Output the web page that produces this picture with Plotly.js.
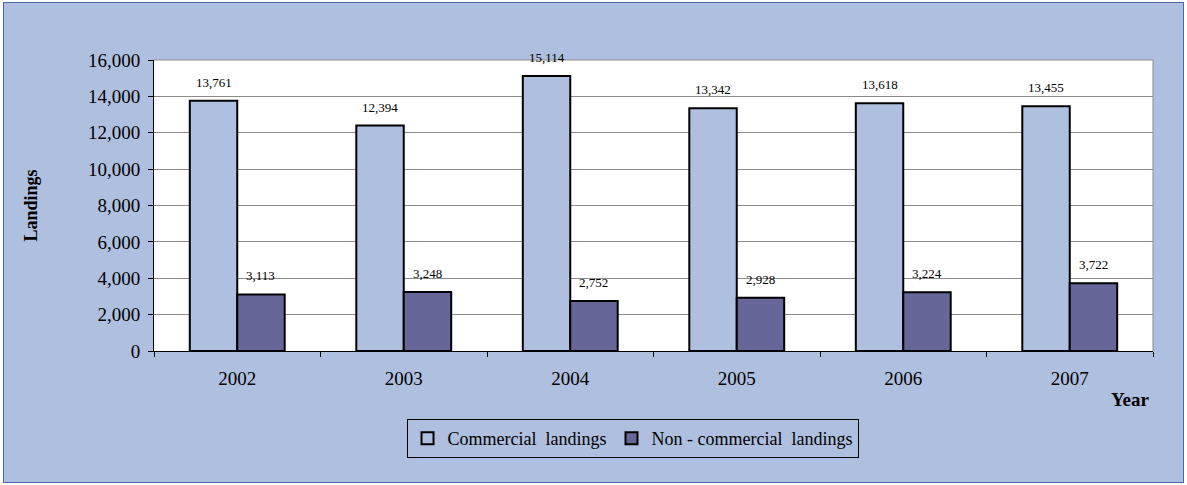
<!DOCTYPE html>
<html>
<head>
<meta charset="utf-8">
<script src="https://cdn.plot.ly/plotly-3.0.1.min.js"></script>
<style>
html,body{margin:0;padding:0;background:#fff;}
#wrap{position:relative;width:1187px;height:485px;}
#chart{position:absolute;left:4px;top:3px;width:1180px;height:480px;}
#frame{position:absolute;left:3px;top:2px;width:1179px;height:479px;border:1.5px solid #4a6aa5;pointer-events:none;}
</style>
</head>
<body>
<div id="wrap"><div id="chart"></div><div id="frame"></div></div>
<script>
const years = ['2002','2003','2004','2005','2006','2007'];
const commercial = [13761, 12394, 15114, 13342, 13618, 13455];
const nonCommercial = [3113, 3248, 2752, 2928, 3224, 3722];
const seriesNames = ['Commercial  landings', 'Non - commercial  landings'];

const BG = '#AFBFDF';
const FONT = '"Liberation Serif", "Times New Roman", Times, serif';

const traces = [
  {type:'bar', x:years, y:commercial, name:seriesNames[0],
   marker:{color:BG, line:{color:'#000', width:2}}, hoverinfo:'skip'},
  {type:'bar', x:years, y:nonCommercial, name:seriesNames[1],
   marker:{color:'#666699', line:{color:'#000', width:2}}, hoverinfo:'skip'}
];

const fmt = v => v.toLocaleString('en-US');
const dataLabels = [];
[[commercial, -23.7], [nonCommercial, 23.7]].forEach(([vals, dx]) => {
  vals.forEach((v, i) => dataLabels.push({
    x: i, y: v, xref:'x', yref:'y', text: fmt(v), showarrow:false,
    xshift: dx, yshift: 9, yanchor:'bottom', xanchor:'center',
    font:{family:FONT, size:13, color:'#000'}
  }));
});

const layout = {
  width:1180, height:480,
  margin:{l:150, r:31, t:57, b:132},
  paper_bgcolor:BG, plot_bgcolor:'#fff',
  font:{family:FONT, color:'#000', size:19},
  barmode:'group', bargap:0.43, bargroupgap:0,
  separators:'.,',
  xaxis:{type:'category', range:[-0.5, 5.5], showline:true, linecolor:'#000', linewidth:1,
         ticks:'outside', tickson:'boundaries', ticklen:5, tickcolor:'#000',
         tickfont:{family:FONT, size:19, color:'#000'}, ticklabelstandoff:10, showgrid:false, zeroline:false},
  yaxis:{range:[0,16000], dtick:2000, tickformat:',d', showline:true, linecolor:'#000', linewidth:1,
         ticks:'outside', ticklen:5, tickcolor:'#000', showgrid:true, gridcolor:'#8c8c8c', gridwidth:1,
         zeroline:false, tickfont:{family:FONT, size:19, color:'#000'}, ticklabelstandoff:4},
  legend:{orientation:'h', x:0.479, xanchor:'center', y:-0.234, yanchor:'top',
          bgcolor:BG, bordercolor:'#000', borderwidth:1,
          font:{family:FONT, size:18}, itemwidth:30, traceorder:'normal'},
  shapes:[
    {type:'line', xref:'paper', yref:'paper', x0:1, x1:1, y0:0, y1:1, line:{color:'#8c8c8c', width:1}},
    {type:'line', xref:'paper', yref:'paper', x0:0, x1:1, y0:1, y1:1, line:{color:'#8c8c8c', width:1}}
  ],
  annotations:[
    {text:'<b>Landings</b>', xref:'paper', yref:'paper', x:-0.124, y:0.5, textangle:-90,
     showarrow:false, font:{family:FONT, size:18}, xanchor:'center', yanchor:'middle'},
    {text:'<b>Year</b>', xref:'paper', yref:'paper', x:0.977, y:-0.168, showarrow:false,
     font:{family:FONT, size:19}, xanchor:'center', yanchor:'middle'}
  ].concat(dataLabels)
};

Plotly.newPlot('chart', traces, layout, {displayModeBar:false, staticPlot:true});
</script>
</body>
</html>
